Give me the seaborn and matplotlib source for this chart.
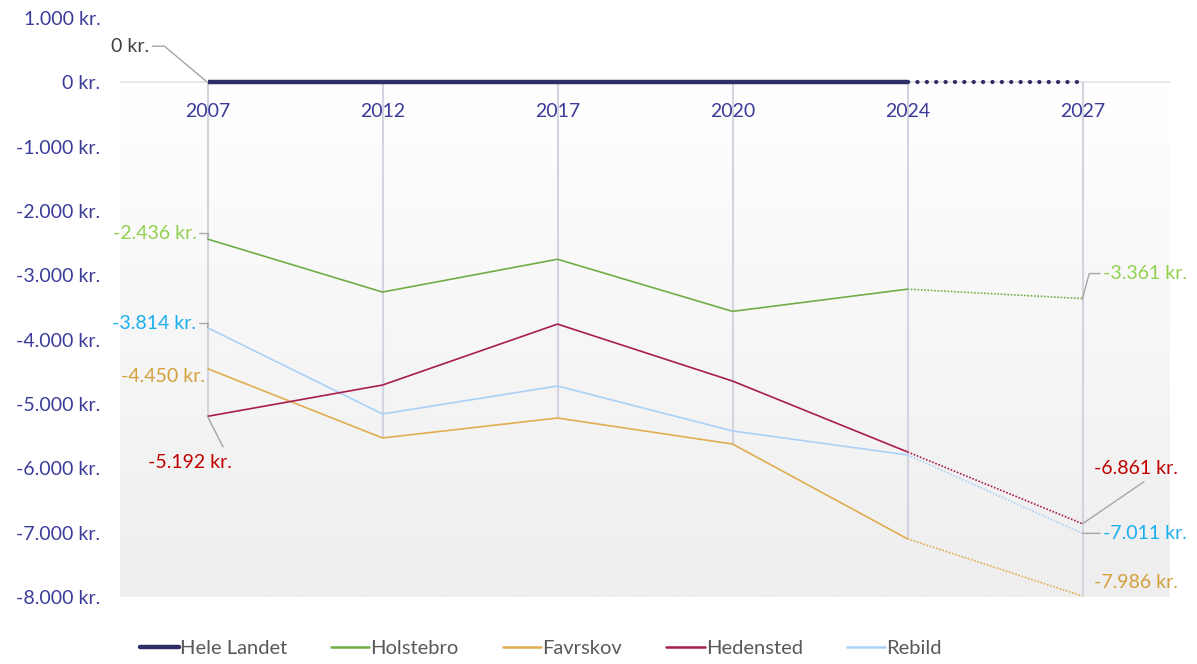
import numpy as np
import pandas as pd
import matplotlib
matplotlib.use("Agg")
import matplotlib.pyplot as plt
import seaborn as sns
from matplotlib.colors import LinearSegmentedColormap
from matplotlib.lines import Line2D

years = ["2007", "2012", "2017", "2020", "2024", "2027"]
series_names = ["Hele Landet", "Holstebro", "Favrskov", "Hedensted", "Rebild"]
hele_landet = [0, 0, 0, 0, 0, 0]
holstebro = [-2436, -3260, -2750, -3560, -3215, -3361]
favrskov = [-4450, -5528, -5218, -5622, -7096, -7986]
hedensted = [-5192, -4705, -3758, -4643, -5745, -6861]
rebild = [-3814, -5155, -4720, -5419, -5792, -7011]
y_ticks = [1000, 0, -1000, -2000, -3000, -4000, -5000, -6000, -7000, -8000]

values = {"Hele Landet": hele_landet, "Holstebro": holstebro, "Favrskov": favrskov,
          "Hedensted": hedensted, "Rebild": rebild}
line_colors = {"Hele Landet": "#2f2d66", "Holstebro": "#70ad47", "Favrskov": "#e0ad50",
               "Hedensted": "#a81c4f", "Rebild": "#a9d2f8"}
label_colors = {"Hele Landet": "#404040", "Holstebro": "#92d050", "Favrskov": "#d4a03c",
                "Hedensted": "#c00000", "Rebild": "#1ab0ee"}
widths = {"Hele Landet": 3.2, "Holstebro": 1.2, "Favrskov": 1.2, "Hedensted": 1.2, "Rebild": 1.2}

sns.set_theme(style="white")
plt.rcParams["font.family"] = ["Lato", "DejaVu Sans"]

def fmt(v):
    s = f"{abs(v):,.0f}".replace(",", ".")
    return ("-" if v < 0 else "") + s + " kr."

fig = plt.figure(figsize=(11.97, 6.64), dpi=100)
ax = fig.add_axes([120/1197, (664-597)/664, (1170-120)/1197, (597-18)/664])

x = np.arange(len(years))
ax.set_xlim(-0.5, 5.5)
ax.set_ylim(-8000, 1000)

# gradient background below zero
cmap = LinearSegmentedColormap.from_list("bg", ["#ffffff", "#eeeeee"])
grad = np.linspace(0, 1, 256).reshape(-1, 1)
ax.imshow(grad, cmap=cmap, aspect="auto", extent=(-0.5, 5.5, -8000, 0), origin="upper", zorder=0)
ax.axhline(0, color="#e3e3e3", lw=1.2, zorder=1)

# drop lines
all_vals = np.array([values[n] for n in series_names])
mins = all_vals.min(axis=0)
ax.vlines(x, mins, 0, color="#d4d4e0", lw=1.5, zorder=1)

# series: solid up to 2024, dotted 2024-2027
order = ["Holstebro", "Favrskov", "Rebild", "Hedensted", "Hele Landet"]
for name in order:
    df = pd.DataFrame({"x": x, "v": values[name]})
    sns.lineplot(data=df.iloc[:5], x="x", y="v", ax=ax, color=line_colors[name],
                 lw=widths[name], zorder=3, solid_capstyle="butt")
    if name == "Hele Landet":
        ls = (0, (0.05, 2.2))
        sns.lineplot(data=df.iloc[4:], x="x", y="v", ax=ax, color=line_colors[name],
                     lw=3.0, zorder=3, linestyle=ls, dash_capstyle="round")
    else:
        sns.lineplot(data=df.iloc[4:], x="x", y="v", ax=ax, color=line_colors[name],
                     lw=1.2, zorder=3, linestyle=(0, (1, 1)))

# year labels under zero line
for i, yr in enumerate(years):
    ax.text(i, -450, yr, ha="center", va="center", fontsize=14, color="#3b3b9a", zorder=4)

ax.set_yticks(y_ticks)
ax.set_yticklabels([fmt(v) for v in y_ticks], fontsize=14, color="#3b3b9a")
ax.set_xticks([])
ax.set_xlabel("")
ax.set_ylabel("")
ax.tick_params(axis="y", length=0, pad=14)
for s in ax.spines.values():
    s.set_visible(False)

lead = dict(arrowstyle="-", color="#a6a6a6", lw=1.0, shrinkA=0, shrinkB=0)
fs = 14
# start labels
ax.annotate(fmt(hele_landet[0]), xy=(0, hele_landet[0]), xytext=(-42, 26), textcoords="offset points",
            ha="right", va="center", fontsize=fs, color=label_colors["Hele Landet"],
            arrowprops=dict(lead, connectionstyle="angle,angleA=0,angleB=140,rad=0", relpos=(1.0, 0.5)))
ax.annotate(fmt(holstebro[0]), xy=(0, holstebro[0]), xytext=(-8, 4), textcoords="offset points",
            ha="right", va="center", fontsize=fs, color=label_colors["Holstebro"],
            arrowprops=dict(lead, connectionstyle="angle,angleA=0,angleB=80,rad=0", relpos=(1.0, 0.5)))
ax.annotate(fmt(rebild[0]), xy=(0, rebild[0]), xytext=(-8, 3), textcoords="offset points",
            ha="right", va="center", fontsize=fs, color=label_colors["Rebild"],
            arrowprops=dict(lead, connectionstyle="angle,angleA=0,angleB=80,rad=0", relpos=(1.0, 0.5)))
ax.annotate(fmt(favrskov[0]), xy=(0, favrskov[0]), xytext=(-2, -6), textcoords="offset points",
            ha="right", va="center", fontsize=fs, color=label_colors["Favrskov"])
ax.annotate(fmt(hedensted[0]), xy=(0, hedensted[0]), xytext=(-13, -33), textcoords="offset points",
            ha="center", va="center", fontsize=fs, color=label_colors["Hedensted"],
            arrowprops=dict(lead, relpos=(0.9, 1.4)))
# end labels
ax.annotate(fmt(holstebro[5]), xy=(5, holstebro[5]), xytext=(15, 18), textcoords="offset points",
            ha="left", va="center", fontsize=fs, color=label_colors["Holstebro"],
            arrowprops=dict(lead, connectionstyle="angle,angleA=0,angleB=75,rad=0", relpos=(0.0, 0.5)))
ax.annotate(fmt(hedensted[5]), xy=(5, hedensted[5]), xytext=(8, 40), textcoords="offset points",
            ha="left", va="center", fontsize=fs, color=label_colors["Hedensted"],
            arrowprops=dict(lead, relpos=(0.6, -0.3)))
ax.annotate(fmt(rebild[5]), xy=(5, rebild[5]), xytext=(15, 0), textcoords="offset points",
            ha="left", va="center", fontsize=fs, color=label_colors["Rebild"],
            arrowprops=dict(lead, relpos=(0.0, 0.5)))
ax.annotate(fmt(favrskov[5]), xy=(5, favrskov[5]), xytext=(8, 10), textcoords="offset points",
            ha="left", va="center", fontsize=fs, color=label_colors["Favrskov"])

handles = [Line2D([0], [0], color=line_colors[n], lw=(3.2 if n == "Hele Landet" else 1.8))
           for n in series_names]
fig.legend(handles, series_names, loc="center", bbox_to_anchor=(0.452, 0.024), ncol=5,
           frameon=False, fontsize=14.5, labelcolor="#595959", handlelength=1.9,
           handletextpad=0.05, columnspacing=2.2)

fig.savefig("out.png", dpi=100)
